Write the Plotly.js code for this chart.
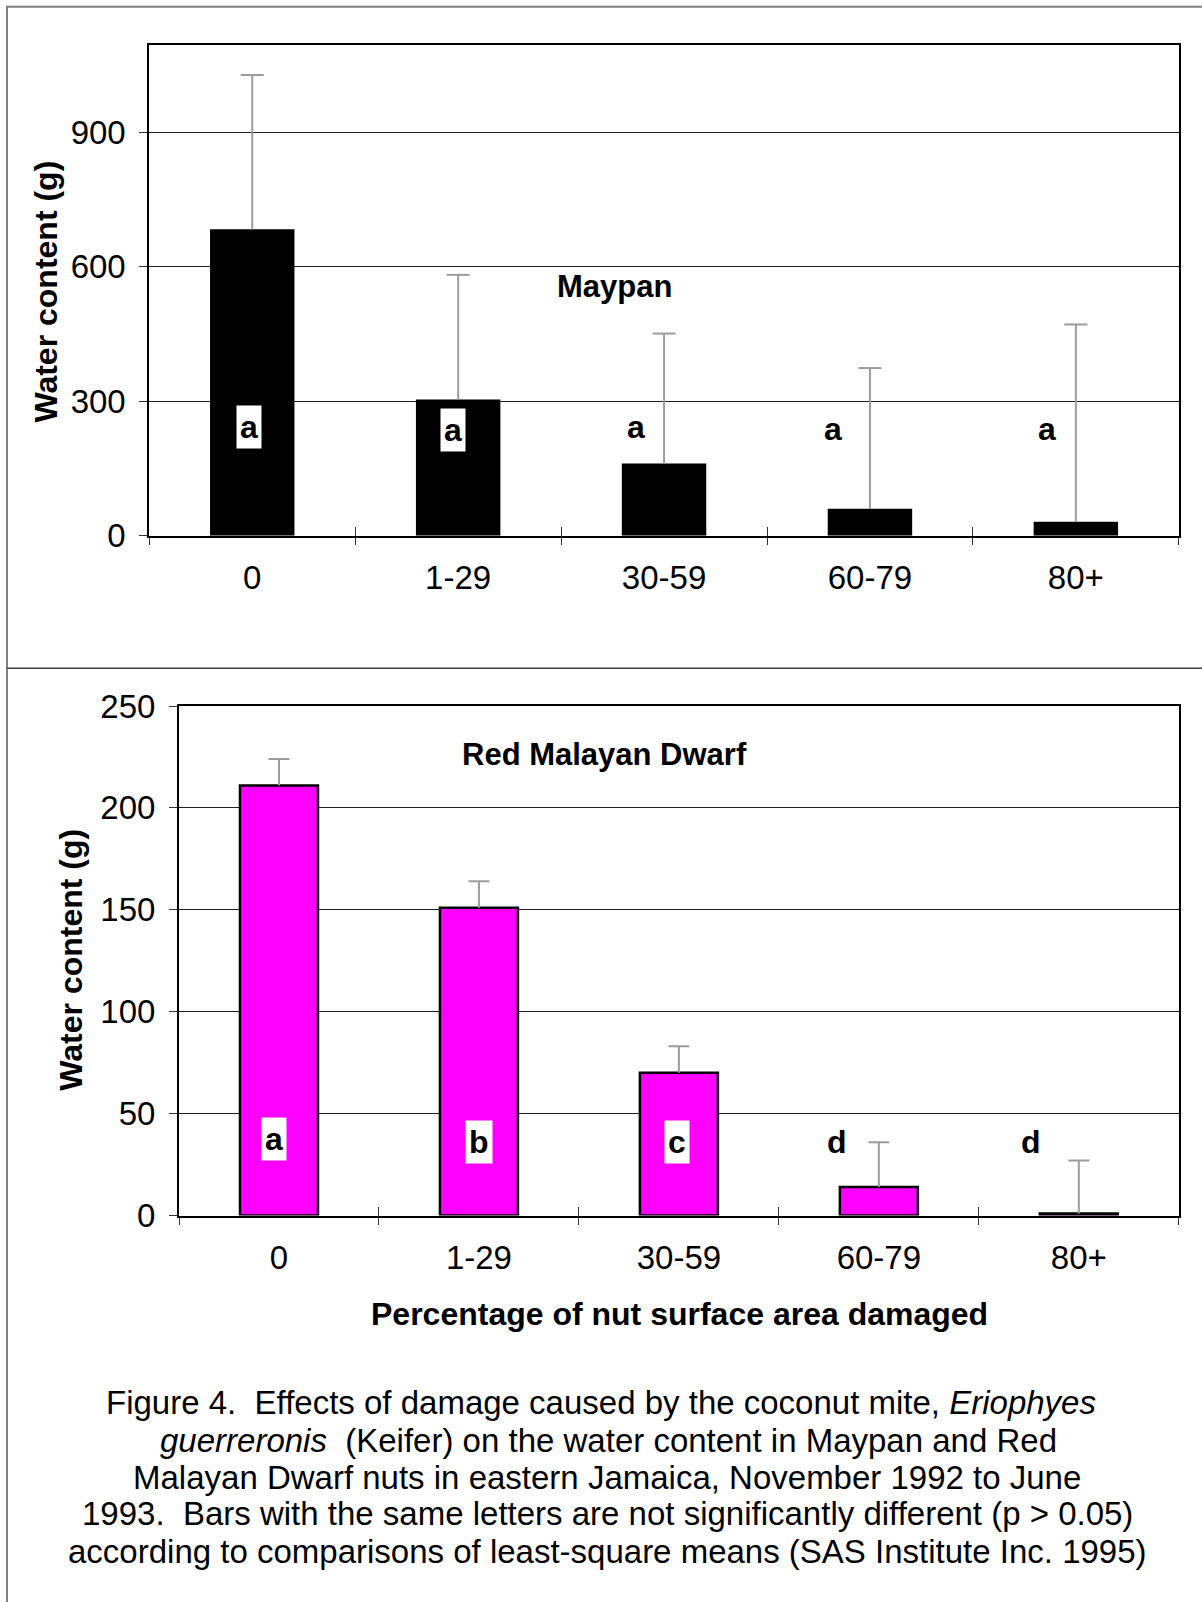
<!DOCTYPE html>
<html>
<head>
<meta charset="utf-8">
<script src="https://cdn.plot.ly/plotly-3.0.1.min.js"></script>
<style>
html,body{margin:0;padding:0;background:#fff;}
#chart{width:1202px;height:1602px;}
</style>
</head>
<body>
<div id="chart"></div>
<script>
// ---------- data ----------
const categories = ["0", "1-29", "30-59", "60-79", "80+"];

const maypanMean = [684, 304, 161, 60, 31];
const maypanErr = [344, 278, 290, 314, 440];
const maypanLetters = ["a", "a", "a", "a", "a"];
const maypanTicks = [0, 300, 600, 900];

const rmdMean = [211, 151, 70, 14, 1];
const rmdErr = [13, 13, 13, 22, 26];
const rmdLetters = ["a", "b", "c", "d", "d"];
const rmdTicks = [0, 50, 100, 150, 200, 250];

const topTitle = "Maypan";
const bottomTitle = "Red Malayan Dwarf";
const yTitle = "Water content (g)";
const xTitle = "Percentage of nut surface area damaged";
const captionLines = [
  "Figure 4.\u00A0 Effects of damage caused by the coconut mite, <i>Eriophyes</i>",
  "<i>guerreronis</i>\u00A0 (Keifer) on the water content in Maypan and Red",
  "Malayan Dwarf nuts in eastern Jamaica, November 1992 to June",
  "1993.\u00A0 Bars with the same letters are not significantly different (p > 0.05)",
  "according to comparisons of least-square means (SAS Institute Inc. 1995)"
];

// ---------- layout helpers ----------
const W = 1202, H = 1602;
const px = x => x / W;
const py = y => 1 - y / H;
const FONT = "Arial, 'Liberation Sans', sans-serif";
const ERR = '#9c9c9c';
const capTop = (m, e) => m.map((v, i) => v + e[i]);
const zeros = a => a.map(() => 0);

const traces = [
  {
    type: 'bar', x: categories, y: maypanMean, xaxis: 'x', yaxis: 'y',
    width: 0.41, marker: {color: '#000000', line: {width: 0}},
    hoverinfo: 'skip', showlegend: false
  },
  {
    type: 'scatter', mode: 'markers', x: categories, y: capTop(maypanMean, maypanErr),
    xaxis: 'x3', yaxis: 'y', hoverinfo: 'skip', showlegend: false,
    marker: {symbol: 'line-ew', size: 16.5, color: ERR, line: {color: ERR, width: 2}},
    error_y: {type: 'data', symmetric: false, array: zeros(maypanErr), arrayminus: maypanErr,
              width: 0, thickness: 2, color: ERR}
  },
  {
    type: 'bar', x: categories, y: rmdMean, xaxis: 'x2', yaxis: 'y2',
    width: 0.39, marker: {color: '#FF00FF', line: {color: '#000000', width: 2.5}},
    hoverinfo: 'skip', showlegend: false
  },
  {
    type: 'scatter', mode: 'markers', x: categories, y: capTop(rmdMean, rmdErr),
    xaxis: 'x4', yaxis: 'y2', hoverinfo: 'skip', showlegend: false,
    marker: {symbol: 'line-ew', size: 15, color: ERR, line: {color: ERR, width: 2}},
    error_y: {type: 'data', symmetric: false, array: zeros(rmdErr), arrayminus: rmdErr,
              width: 0, thickness: 2, color: ERR}
  }
];

const tickFont = {family: FONT, size: 33, color: '#000'};
function mainX(domain, anchor) {
  return {
    type: 'category', range: [-0.5, 4.5], domain: domain, anchor: anchor, fixedrange: true,
    showline: true, linecolor: '#000', linewidth: 2, mirror: true,
    showgrid: false, zeroline: false,
    ticks: 'outside', ticklen: 7, tickwidth: 1, tickcolor: '#333', tickson: 'boundaries',
    tickfont: tickFont, ticklabelstandoff: 12
  };
}
function overlayX(over, anchor) {
  return {
    type: 'category', range: [-0.5, 4.5], overlaying: over, anchor: anchor, fixedrange: true,
    showline: false, showgrid: false, zeroline: false,
    ticks: 'inside', ticklen: 9, tickwidth: 1, tickcolor: '#333', tickson: 'boundaries',
    showticklabels: false
  };
}
function mainY(domain, anchor, range, tickvals) {
  return {
    domain: domain, anchor: anchor, range: range, tickvals: tickvals, fixedrange: true,
    showline: true, linecolor: '#000', linewidth: 2, mirror: true,
    showgrid: true, gridcolor: '#1e1e1e', gridwidth: 1, zeroline: false,
    ticks: 'outside', ticklen: 8, tickwidth: 1, tickcolor: '#333',
    tickfont: tickFont, ticklabelstandoff: 7
  };
}

const annotations = [];
const boldFont = (s) => ({family: FONT, size: s, color: '#000', weight: 'bold'});

// significance letters
const maypanLetterY = [242, 236, 242, 238, 238];
const maypanLetterShift = [-3, -5, -28, -37, -29];
maypanLetters.forEach((t, i) => annotations.push({
  xref: 'x', yref: 'y', x: categories[i], y: maypanLetterY[i], xshift: maypanLetterShift[i],
  text: t, showarrow: false, font: boldFont(32), bgcolor: '#ffffff', borderpad: 3,
  xanchor: 'center', yanchor: 'middle'
}));
const rmdLetterY = [37.5, 36, 36, 36, 36];
const rmdLetterShift = [-5, 0, -2, -42, -48];
rmdLetters.forEach((t, i) => annotations.push({
  xref: 'x2', yref: 'y2', x: categories[i], y: rmdLetterY[i], xshift: rmdLetterShift[i],
  text: t, showarrow: false, font: boldFont(32), bgcolor: '#ffffff', borderpad: 3,
  xanchor: 'center', yanchor: 'middle'
}));

// chart labels and axis titles
const paperText = (x, y, text, font, extra) => Object.assign({
  xref: 'paper', yref: 'paper', x: px(x), y: py(y), text: text, showarrow: false,
  font: font, xanchor: 'center', yanchor: 'middle'
}, extra || {});
annotations.push(paperText(614, 286, topTitle, boldFont(31)));
annotations.push(paperText(604.5, 754, bottomTitle, boldFont(31)));
annotations.push(paperText(46, 291.6, yTitle, boldFont(32), {textangle: -90}));
annotations.push(paperText(71.5, 960.2, yTitle, boldFont(32), {textangle: -90}));
annotations.push(paperText(679, 1314, xTitle, boldFont(32)));

// caption
const capY = [1402.4, 1440.2, 1477, 1513.8, 1551.6];
const capX = [601, 608.7, 607, 607.7, 607.2];
captionLines.forEach((t, i) => annotations.push(
  paperText(capX[i], capY[i], t, {family: FONT, size: 33, color: '#000'})
));

const shapes = [
  {type: 'line', xref: 'paper', yref: 'paper', x0: px(6), x1: 1, y0: py(6.7), y1: py(6.7),
   line: {color: '#808080', width: 2}},
  {type: 'line', xref: 'paper', yref: 'paper', x0: px(7), x1: px(7), y0: py(5.7), y1: 0,
   line: {color: '#808080', width: 2}},
  {type: 'line', xref: 'paper', yref: 'paper', x0: px(7), x1: 1, y0: py(668.3), y1: py(668.3),
   line: {color: '#404040', width: 1.5}}
];

const layout = {
  width: W, height: H, margin: {l: 0, r: 0, t: 0, b: 0, pad: 0},
  paper_bgcolor: '#ffffff', plot_bgcolor: 'rgba(0,0,0,0)',
  showlegend: false, bargap: 0.6,
  font: {family: FONT, color: '#000'},
  xaxis: mainX([px(149.3), px(1178.8)], 'y'),
  xaxis3: overlayX('x', 'y'),
  yaxis: mainY([py(535.7), py(44.5)], 'x', [0, 1096], maypanTicks),
  xaxis2: mainX([px(179), px(1178.8)], 'y2'),
  xaxis4: overlayX('x2', 'y2'),
  yaxis2: mainY([py(1215.5), py(706)], 'x2', [0, 250], rmdTicks),
  annotations: annotations,
  shapes: shapes
};

Plotly.newPlot('chart', traces, layout, {staticPlot: true, displayModeBar: false});
</script>
</body>
</html>
